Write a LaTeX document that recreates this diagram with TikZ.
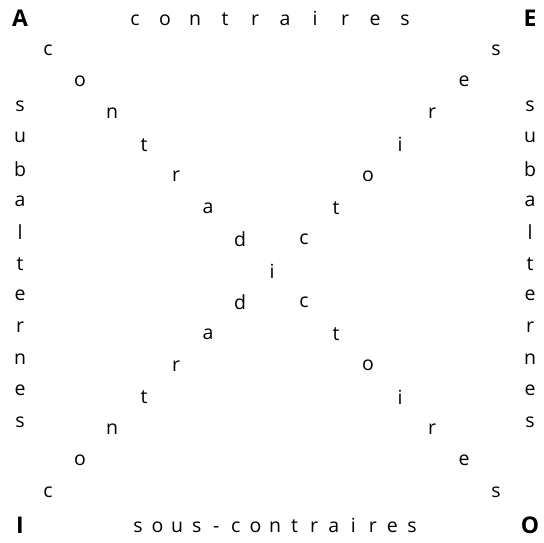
\documentclass[tikz,border=0pt]{standalone}
\usepackage{fontspec}
\setmainfont{Open Sans}
\begin{document}
\begin{tikzpicture}[x=1pt,y=-1pt,
  lett/.style={inner sep=0pt,font=\fontsize{19.5}{19.5}\selectfont},
  corner/.style={inner sep=0pt,font=\fontsize{23}{23}\selectfont\bfseries}]
\useasboundingbox (0,0) rectangle (544,542);
\node[corner] (A) at (20,18) {A};
\node[corner] (E) at (530,18) {E};
\node[corner] (I) at (20,525) {I};
\node[corner] (O) at (530,525) {O};
% top
\foreach \ch [count=\k from 0] in {c,o,n,t,r,a,i,r,e,s}
  \node[lett,anchor=base] (top\k) at ({135+30*\k},25) {\ch};
% bottom
\foreach \ch [count=\k from 0] in {s,o,u,s,-,c,o,n,t,r,a,i,r,e,s}
  \node[lett,anchor=base] (bot\k) at ({138+19.57*\k},532) {\ch};
% sides
\foreach \ch [count=\k from 0] in {s,u,b,a,l,t,e,r,n,e,s}{
  \node[lett] (left\k) at (20,{106+31.6*\k}) {\ch};
  \node[lett] (right\k) at (530,{106+31.6*\k}) {\ch};
}
% diagonals
\foreach \ch [count=\k from 0] in {c,o,n,t,r,a,d,i,c,t,o,i,r,e,s}
  \node[lett] (da\k) at ({48+32*\k},{50+31.57*\k}) {\ch};
\foreach \ch [count=\k from 0] in {c,o,n,t,r,a,d,c,t,o,i,r,e,s}{
  \pgfmathtruncatemacro{\j}{\k<7 ? \k : \k+1}
  \node[lett] (db\j) at ({48+32*\j},{492-31.57*\j}) {\ch};
}
\end{tikzpicture}
\end{document}
